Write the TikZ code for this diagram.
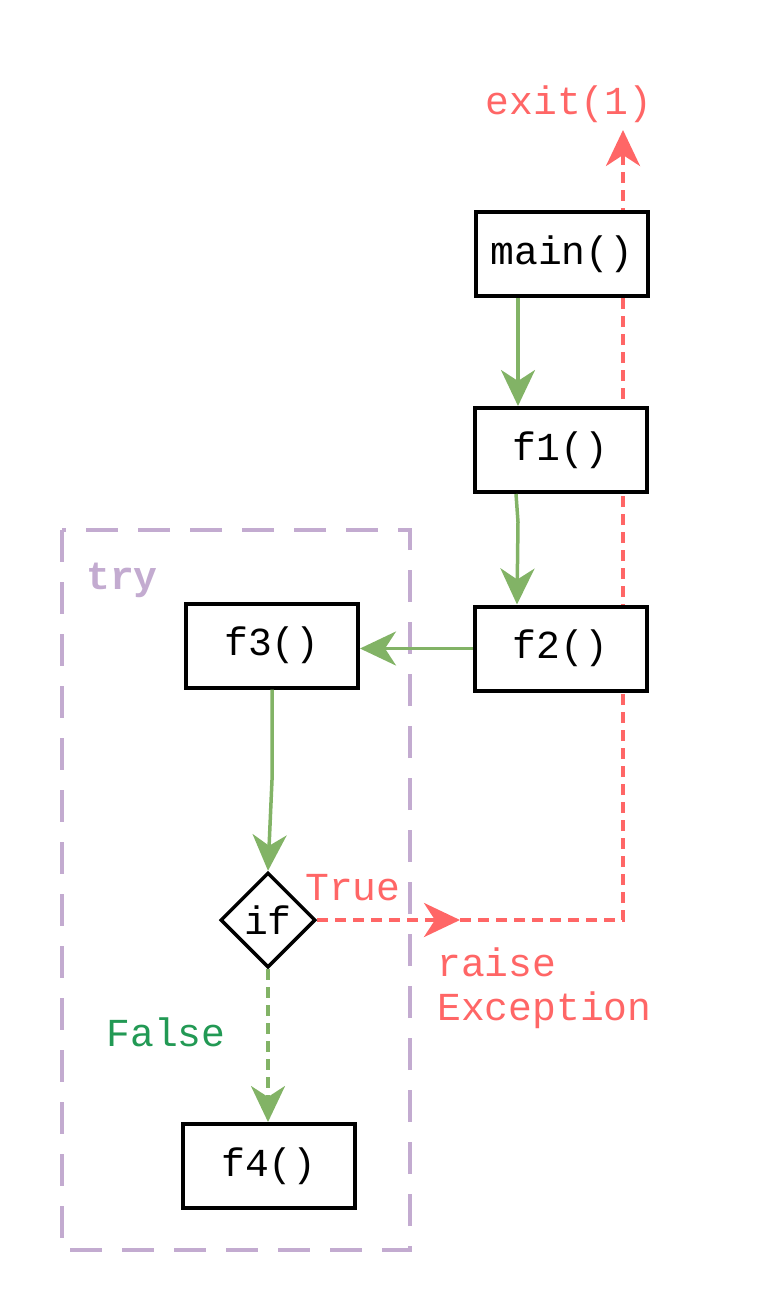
\documentclass[tikz,border=0pt]{standalone}
\usepackage{fontspec}
\setmainfont{Liberation Mono}
\usetikzlibrary{arrows.meta,shapes.geometric,backgrounds}
\definecolor{gr}{HTML}{82B366}
\definecolor{rd}{HTML}{FF6666}
\definecolor{pu}{HTML}{C3ABD0}
\definecolor{dg}{HTML}{229954}
\begin{document}
\begin{tikzpicture}[x=1pt,y=-1pt,
  font=\fontsize{39.7}{44}\selectfont,
  fbox/.style={draw=black,line width=4pt,fill=white,minimum width=172pt,minimum height=84pt,inner sep=0pt},
  dia/.style={diamond,draw=black,line width=3.5pt,fill=white,minimum width=95pt,minimum height=95pt,inner sep=0pt},
  tip/.style={-{Stealth[length=36pt,width=34pt,inset=11pt]}},
  garrow/.style={gr,line width=3.5pt,tip},
  rline/.style={rd,line width=4pt,dash pattern=on 11pt off 7pt},
  lbl/.style={inner sep=0pt}]
\useasboundingbox (0,0) rectangle (760,1292);
\node[fbox] (main) at (562,254) {main()};
\node[fbox] (f1) at (560.5,450) {f1()};
\node[fbox] (f2) at (560.5,648.5) {f2()};
\node[fbox] (f3) at (272,645.5) {f3()};
\node[fbox] (f4) at (269,1166) {f4()};
\node[dia] (if) at (268,920) {if};
\node[lbl,rd] (exit) at (569,104) {exit(1)};
\node[lbl,rd] (true) at (353,888) {True};
\node[lbl,rd,anchor=west,align=left] (raise) at (437,988) {raise\\Exception};
\node[lbl,dg] (false) at (166,1032) {False};
\node[lbl,pu,font=\fontsize{39.7}{44}\selectfont\bfseries] (try) at (122,580) {try};
\coordinate (mid) at (460,920);
\coordinate (corner) at (623,920);
\coordinate (top) at (623,130);
\coordinate (f1a) at (518,522);
\coordinate (f3a) at (272,780);
\begin{scope}[on background layer]
\draw[pu,line width=4pt,dash pattern=on 32pt off 20pt] (62,530) rectangle (410,1250);
\draw[rline,tip] (if.east) -- (mid);
\draw[rline,tip] (mid) -- (corner) -- (top);
\end{scope}
\draw[garrow] (main.south -| 518,0) -- (f1.north -| 518,0);
\draw[garrow] (f1.south -| 516,0) -- (f1a) -- (f2.north -| 517,0);
\draw[garrow] (f2.west) -- (f3.east |- f2.west);
\draw[garrow] (f3.south) -- (f3a) -- (if.north);
\draw[garrow,dash pattern=on 11pt off 7pt] (if.south) -- (f4.north -| if.south);
\end{tikzpicture}
\end{document}
